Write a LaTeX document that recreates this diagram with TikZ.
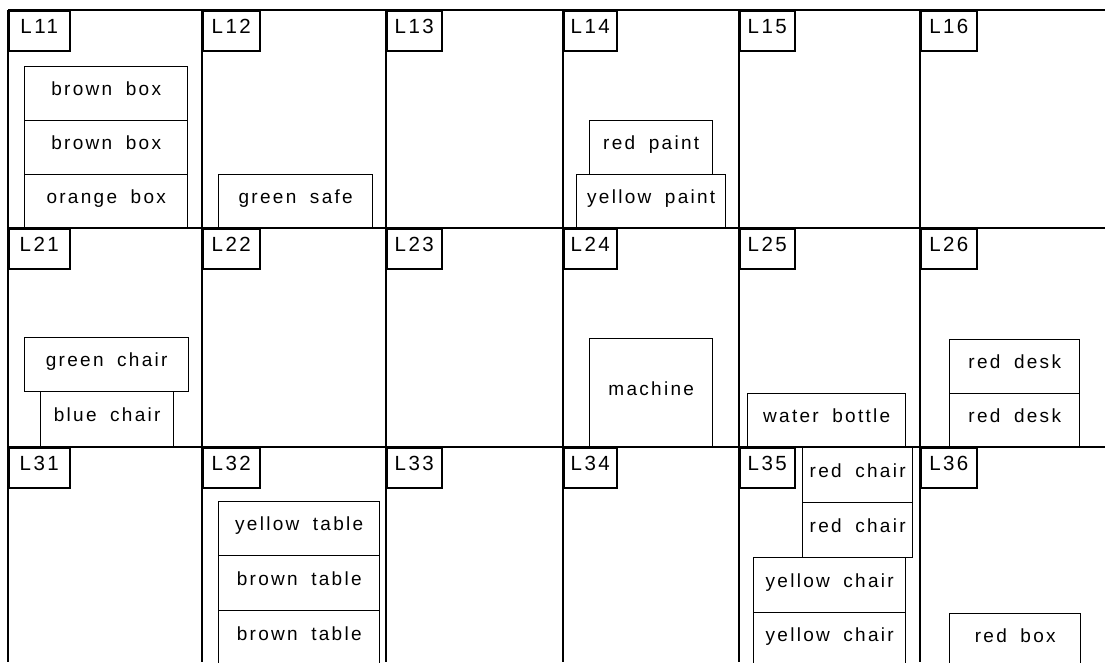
\documentclass[tikz,border=0pt]{standalone}
\usepackage{fontspec}
\setmainfont{Liberation Sans}[LetterSpace=12,WordSpace=1.8]
\begin{document}
\begin{tikzpicture}[x=1pt,y=-1pt,
  gridline/.style={line width=1.8pt},
  item/.style={draw,line width=1.4pt,anchor=north west,inner sep=0pt,
    text height=13.5pt,text depth=9pt,font=\fontsize{19}{21}\selectfont},
  lbl/.style={draw,line width=1.6pt,anchor=north west,inner sep=0pt,
    minimum height=40pt,minimum width=55pt,text height=14.5pt,text depth=9pt,
    font=\fontsize{20.5}{22}\selectfont}]
\useasboundingbox (0,0) rectangle (1105,662);
\clip (0,0) rectangle (1105,662);
% grid
\draw[gridline] (8,10) -- (1105,10);
\draw[gridline] (8,228) -- (1105,228);
\draw[gridline] (8,447) -- (1105,447);
\foreach \gx in {8,202,386,563,739,920}
  \draw[gridline] (\gx,10) -- (\gx,662);
% labels
\node[lbl,minimum width=61pt] (L11) at (8,10) {L11};
\node[lbl,minimum width=57pt] (L12) at (202,10) {L12};
\node[lbl] (L13) at (386,10) {L13};
\node[lbl,minimum width=53pt] (L14) at (563,10) {L14};
\node[lbl] (L15) at (739,10) {L15};
\node[lbl,minimum width=56pt] (L16) at (920,10) {L16};
\node[lbl,minimum width=61pt] (L21) at (8,228) {L21};
\node[lbl,minimum width=57pt] (L22) at (202,228) {L22};
\node[lbl] (L23) at (386,228) {L23};
\node[lbl,minimum width=53pt] (L24) at (563,228) {L24};
\node[lbl] (L25) at (739,228) {L25};
\node[lbl,minimum width=56pt] (L26) at (920,228) {L26};
\node[lbl,minimum width=61pt] (L31) at (8,447) {L31};
\node[lbl,minimum width=57pt] (L32) at (202,447) {L32};
\node[lbl] (L33) at (386,447) {L33};
\node[lbl,minimum width=53pt] (L34) at (563,447) {L34};
\node[lbl] (L35) at (739,447) {L35};
\node[lbl,minimum width=56pt] (L36) at (920,447) {L36};
% row 1 items
\node[item,minimum width=163pt,minimum height=54pt] (bb1) at (24,66) {brown box};
\node[item,minimum width=163pt,minimum height=54pt] (bb2) at (24,120) {brown box};
\node[item,minimum width=163pt,minimum height=54pt] (ob) at (24,174) {orange box};
\node[item,minimum width=154pt,minimum height=54pt] (gs) at (218,174) {green safe};
\node[item,minimum width=123pt,minimum height=54pt] (rp) at (589,120) {red paint};
\node[item,minimum width=149pt,minimum height=54pt] (yp) at (576,174) {yellow paint};
% row 2 items
\node[item,minimum width=164pt,minimum height=54pt] (gc) at (24,337) {green chair};
\node[item,minimum width=133pt,minimum height=56pt] (bc) at (40,391) {blue chair};
\node[item,minimum width=123pt,minimum height=109pt] (mach) at (589,338) {machine};
\node[item,minimum width=158pt,minimum height=54pt] (wb) at (747,393) {water bottle};
\node[item,minimum width=130pt,minimum height=54pt] (rd1) at (949,339) {red desk};
\node[item,minimum width=130pt,minimum height=54pt] (rd2) at (949,393) {red desk};
% row 3 items
\node[item,minimum width=161pt,minimum height=54pt] (yt) at (218,501) {yellow table};
\node[item,minimum width=161pt,minimum height=55pt] (bt1) at (218,555) {brown table};
\node[item,minimum width=161pt,minimum height=56pt] (bt2) at (218,610) {brown table};
\node[item,minimum width=110pt,minimum height=55pt] (rc1) at (802,447) {red chair};
\node[item,minimum width=110pt,minimum height=55pt] (rc2) at (802,502) {red chair};
\node[item,minimum width=152pt,minimum height=55pt] (yc1) at (753,557) {yellow chair};
\node[item,minimum width=152pt,minimum height=54pt] (yc2) at (753,612) {yellow chair};
\node[item,minimum width=131pt,minimum height=53pt] (rbox) at (949,613) {red box};
\end{tikzpicture}
\end{document}
